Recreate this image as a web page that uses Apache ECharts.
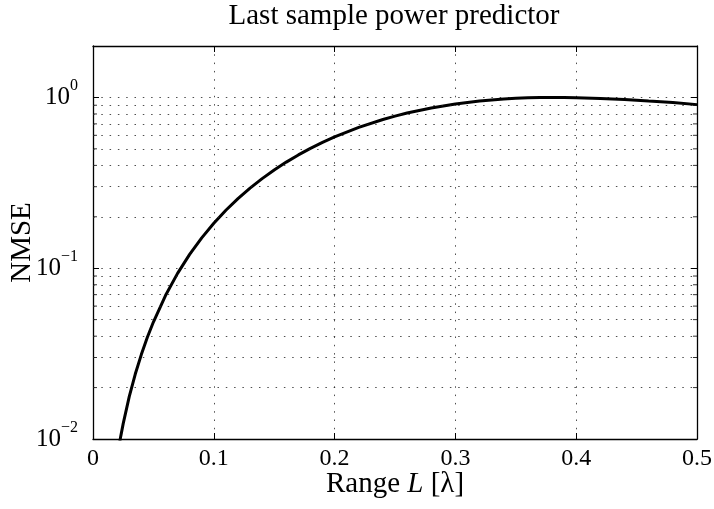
<!DOCTYPE html>
<html>
<head>
<meta charset="utf-8">
<script src="https://cdn.jsdelivr.net/npm/echarts@6/dist/echarts.min.js"></script>
<style>html,body{margin:0;padding:0;background:#fff;}#c{width:714px;height:509px;}</style>
</head>
<body>
<div id="c"></div>
<script>
// Range L [lambda]
const rangeL = [0.022, 0.023, 0.025, 0.03, 0.035, 0.04, 0.045, 0.05, 0.06, 0.07, 0.08, 0.09, 0.10, 0.11, 0.12, 0.13, 0.14, 0.15, 0.16, 0.17, 0.18, 0.19, 0.20, 0.22, 0.24, 0.25, 0.26, 0.28, 0.30, 0.32, 0.33, 0.34, 0.35, 0.36, 0.37, 0.38, 0.39, 0.40, 0.42, 0.43, 0.44, 0.45, 0.46, 0.48, 0.50];
// NMSE
const nmse = [0.0095, 0.0104, 0.0123, 0.0177, 0.0240, 0.0312, 0.0394, 0.0484, 0.0692, 0.0933, 0.1205, 0.1506, 0.1833, 0.2184, 0.2555, 0.2944, 0.3346, 0.3760, 0.4180, 0.4605, 0.5031, 0.5454, 0.5872, 0.6677, 0.7426, 0.7772, 0.8097, 0.8678, 0.9156, 0.9526, 0.9670, 0.9787, 0.9877, 0.9942, 0.9982, 0.9999, 0.9995, 0.9970, 0.9868, 0.9795, 0.9709, 0.9615, 0.9513, 0.9352, 0.9074];
const xTicks = [0, 0.1, 0.2, 0.3, 0.4, 0.5];
const yMajor = [0.01, 0.1, 1];
const yMinor = [0.02, 0.03, 0.04, 0.05, 0.06, 0.07, 0.08, 0.09, 0.2, 0.3, 0.4, 0.5, 0.6, 0.7, 0.8, 0.9];

const FONT = 'Liberation Serif';
const NAME_SIZE = 29;
const TICK_SIZE = 24;
const chart = echarts.init(document.getElementById('c'), null, {renderer: 'canvas'});
const dotted = {color: '#222', width: 1, type: [1.5, 6.8], opacity: 0.8};

const axisCommonX = {
  type: 'value', min: 0, max: 0.5, interval: 0.1,
  axisLine: {show: true, onZero: false, lineStyle: {color: '#000', width: 1.3}},
  axisTick: {show: true, inside: true, length: 6, lineStyle: {color: '#000'}}
};
const axisCommonY = {
  type: 'log', logBase: 10, min: 0.01, max: 2, splitNumber: 3,
  axisLine: {show: true, onZero: false, lineStyle: {color: '#000', width: 1.3}},
  axisTick: {show: true, inside: true, length: 6, lineStyle: {color: '#000'}}
};

const minorTickData = yMinor.map(v => [0, v]);
const minorTickDataR = yMinor.map(v => [0.5, v]);

chart.setOption({
  animation: false,
  backgroundColor: '#fff',
  title: {
    text: 'Last sample power predictor',
    left: 394, top: 2, padding: 0, textAlign: 'center',
    textStyle: {fontFamily: FONT, fontSize: NAME_SIZE, fontWeight: 'normal', color: '#000'}
  },
  grid: {left: 93, right: 17, top: 46, bottom: 70, containLabel: false, outerBoundsMode: 'none'},
  xAxis: [
    Object.assign({}, axisCommonX, {
      position: 'bottom',
      name: '{n|Range }{i|L}{n| [λ]}',
      nameLocation: 'middle', nameGap: 31, nameMoveOverlap: false,
      nameTextStyle: {rich: {
        n: {fontFamily: FONT, fontSize: NAME_SIZE, color: '#000'},
        i: {fontFamily: FONT, fontSize: NAME_SIZE, fontStyle: 'italic', color: '#000'}
      }},
      axisLabel: {show: true, margin: 8, fontFamily: FONT, fontSize: TICK_SIZE, color: '#000',
        formatter: v => (xTicks.indexOf(Math.round(v * 10) / 10) >= 0 ? String(Math.round(v * 10) / 10) : '')},
      splitLine: {show: true, lineStyle: dotted}
    }),
    Object.assign({}, axisCommonX, {
      position: 'top', axisLabel: {show: false}, splitLine: {show: false}
    })
  ],
  yAxis: [
    Object.assign({}, axisCommonY, {
      position: 'left',
      name: 'NMSE', nameLocation: 'middle', nameGap: 56, nameMoveOverlap: false,
      nameTextStyle: {fontFamily: FONT, fontSize: NAME_SIZE, color: '#000'},
      axisLabel: {show: true, margin: 15,
        formatter: v => {
          const e = Math.log10(v);
          if (Math.abs(e - Math.round(e)) > 1e-6) return '';
          const ex = Math.round(e);
          if (yMajor.every(m => Math.abs(Math.log10(m) - ex) > 1e-6)) return '';
          return '{b|10}{s|' + (ex < 0 ? '−' + (-ex) : ex) + '}';
        },
        rich: {
          b: {fontFamily: FONT, fontSize: 25, color: '#000'},
          s: {fontFamily: FONT, fontSize: 16, color: '#000', padding: [0, 0, 23, 0]}
        }
      },
      splitLine: {show: true, lineStyle: dotted}
    }),
    Object.assign({}, axisCommonY, {
      position: 'right', axisLabel: {show: false}, splitLine: {show: false}
    })
  ],
  series: [
    {
      type: 'line', xAxisIndex: 0, yAxisIndex: 0, data: [], silent: true,
      markLine: {
        silent: true, symbol: ['none', 'none'], label: {show: false},
        lineStyle: dotted,
        data: yMinor.map(v => ({yAxis: v}))
      }
    },
    {
      type: 'scatter', xAxisIndex: 0, yAxisIndex: 0, silent: true,
      symbol: 'rect', symbolSize: [4, 1], symbolOffset: [2, 0],
      itemStyle: {color: '#000'}, data: minorTickData
    },
    {
      type: 'scatter', xAxisIndex: 0, yAxisIndex: 0, silent: true,
      symbol: 'rect', symbolSize: [4, 1], symbolOffset: [-2, 0],
      itemStyle: {color: '#000'}, data: minorTickDataR
    },
    {
      type: 'line', xAxisIndex: 0, yAxisIndex: 0, silent: true,
      data: rangeL.map((x, i) => [x, nmse[i]]),
      showSymbol: false, smooth: false, clip: true,
      lineStyle: {color: '#000', width: 3}
    }
  ]
});
</script>
</body>
</html>
